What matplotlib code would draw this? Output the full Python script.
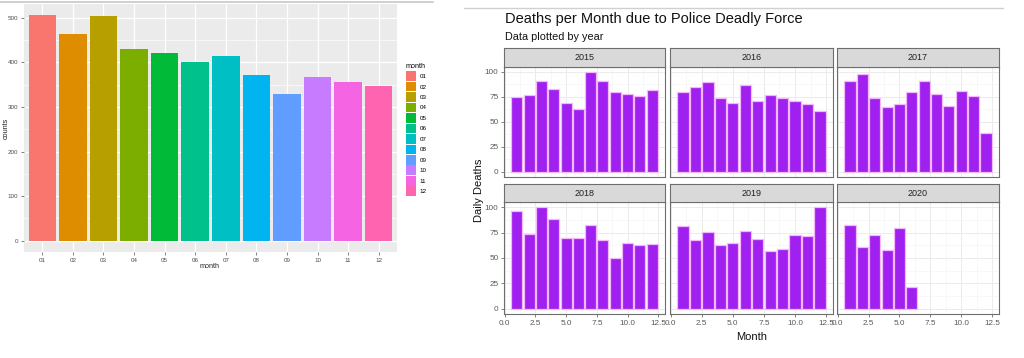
import matplotlib
matplotlib.use("Agg")
import matplotlib.pyplot as plt
from matplotlib.patches import Patch
from matplotlib.ticker import MultipleLocator
from matplotlib.lines import Line2D

plt.rcParams['font.family'] = ['Liberation Sans', 'DejaVu Sans']

# ---------------- data ----------------
month_labels = ['01', '02', '03', '04', '05', '06', '07', '08', '09', '10', '11', '12']
month_counts = [506, 463, 504, 431, 420, 400, 414, 371, 329, 368, 355, 346]
month_colors = ['#F8766D', '#DE8C00', '#B79F00', '#7CAE00', '#00BA38', '#00C08B',
                '#00BFC4', '#00B4F0', '#619CFF', '#C77CFF', '#F564E3', '#FF64B0']

years = ['2015', '2016', '2017', '2018', '2019', '2020']
deaths_2015 = [75, 77, 91, 83, 69, 63, 100, 91, 80, 78, 76, 82]
deaths_2016 = [80, 85, 90, 74, 69, 87, 71, 77, 74, 71, 68, 61]
deaths_2017 = [91, 98, 74, 65, 68, 80, 91, 78, 66, 81, 76, 39]
deaths_2018 = [96, 74, 100, 88, 70, 70, 82, 68, 50, 65, 63, 64]
deaths_2019 = [81, 68, 76, 63, 65, 77, 69, 57, 59, 73, 72, 100]
deaths_2020 = [82, 61, 73, 58, 79, 22]
deaths_by_year = [deaths_2015, deaths_2016, deaths_2017, deaths_2018, deaths_2019, deaths_2020]

W, H = 1024, 358
fig = plt.figure(figsize=(W / 100, H / 100), dpi=100)
fig.patch.set_facecolor('white')


def px(x0, y0, x1, y1):
    return [x0 / W, 1 - y1 / H, (x1 - x0) / W, (y1 - y0) / H]


# separator lines at the top
fig.add_artist(Line2D([0 / W, 433 / W], [1 - 1.5 / H, 1 - 1.5 / H], color='#C8C8C8', lw=1.2))
fig.add_artist(Line2D([464 / W, 1003 / W], [1 - 7.5 / H, 1 - 7.5 / H], color='#D0D0D0', lw=1.0))

# ---------------- left chart ----------------
axL = fig.add_axes(px(24, 4, 397, 252))
axL.set_facecolor('#EBEBEB')
xs = list(range(1, len(month_labels) + 1))
bars = axL.bar(xs, month_counts, width=0.9, color=month_colors, zorder=3)
axL.set_xlim(0.4, 12.6)
axL.set_ylim(-25.3, 531)
axL.set_xticks(xs)
axL.set_xticklabels(month_labels)
axL.yaxis.set_major_locator(MultipleLocator(100))
axL.yaxis.set_minor_locator(MultipleLocator(50))
axL.grid(which='major', color='white', lw=0.9, zorder=0)
axL.grid(which='minor', axis='y', color='white', lw=0.45, zorder=0)
for s in axL.spines.values():
    s.set_visible(False)
axL.tick_params(axis='both', which='major', labelsize=4.5, colors='#4D4D4D',
                length=2, width=0.5, pad=2)
axL.tick_params(which='minor', length=0)
fig.text(210 / W, 1 - 266 / H, 'month', fontsize=5.2, color='#222222', ha='center', va='center')
fig.text(6 / W, 1 - 128 / H, 'counts', fontsize=5.2, color='#222222', ha='center', va='center',
         rotation=90)

handles = [Patch(facecolor=c, edgecolor='none') for c in month_colors]
fig.legend(handles, month_labels, title='month', loc='upper left',
           bbox_to_anchor=(403 / W, 1 - 61 / H), frameon=False, fontsize=4.5,
           title_fontsize=5.2, handlelength=1.6, handleheight=2.05, labelspacing=0.1,
           handletextpad=0.6, borderaxespad=0, alignment='left')

# ---------------- right chart (facets) ----------------
col_x = [(504, 665), (670, 833), (837, 999)]
row_y = [(48, 67, 177), (184, 202, 314)]
purple = '#A020F0'
edge = '#F2B8F8'

for i, (yr, vals) in enumerate(zip(years, deaths_by_year)):
    r, c = divmod(i, 3)
    x0, x1 = col_x[c]
    sy0, py0, py1 = row_y[r]
    ax = fig.add_axes(px(x0, py0, x1, py1))
    ax.set_facecolor('white')
    mx = list(range(1, len(vals) + 1))
    ax.bar(mx, vals, width=0.9, color=purple, edgecolor=edge, lw=0.9, zorder=3)
    ax.set_xlim(-0.05, 13.05)
    ax.set_ylim(-5, 105)
    ax.xaxis.set_major_locator(MultipleLocator(2.5))
    ax.xaxis.set_minor_locator(MultipleLocator(1.25))
    ax.yaxis.set_major_locator(MultipleLocator(25))
    ax.yaxis.set_minor_locator(MultipleLocator(12.5))
    ax.grid(which='major', color='#EBEBEB', lw=0.7, zorder=0)
    ax.grid(which='minor', color='#F3F3F3', lw=0.4, zorder=0)
    for s in ax.spines.values():
        s.set_color('#6E6E6E')
        s.set_linewidth(0.8)
    ax.tick_params(which='minor', length=0)
    ax.tick_params(which='major', length=2.5, width=0.6, colors='#6E6E6E',
                   labelcolor='#5A5A5A', labelsize=5.9, pad=1.5)
    if r == 1:
        ax.set_xticks([0, 2.5, 5, 7.5, 10, 12.5])
        ax.set_xticklabels(['0.0', '2.5', '5.0', '7.5', '10.0', '12.5'])
    else:
        ax.tick_params(axis='x', length=0, labelbottom=False)
    if c == 0:
        ax.set_yticks([0, 25, 50, 75, 100])
        ax.set_yticklabels(['0', '25', '50', '75', '100'])
    else:
        ax.tick_params(axis='y', length=0, labelleft=False)

    sax = fig.add_axes(px(x0, sy0, x1, py0))
    sax.set_facecolor('#D9D9D9')
    sax.set_xticks([])
    sax.set_yticks([])
    for s in sax.spines.values():
        s.set_color('#6E6E6E')
        s.set_linewidth(0.8)
    sax.text(0.5, 0.5, yr, transform=sax.transAxes, ha='center', va='center',
             fontsize=6.5, color='#222222')

fig.text(505 / W, 1 - 19 / H, 'Deaths per Month due to Police Deadly Force', fontsize=10.5,
         color='#111111', ha='left', va='center')
fig.text(505 / W, 1 - 37 / H, 'Data plotted by year', fontsize=7.8, color='#111111',
         ha='left', va='center')
fig.text(752 / W, 1 - 337 / H, 'Month', fontsize=8, color='#111111', ha='center', va='center')
fig.text(479 / W, 1 - 190 / H, 'Daily Deaths', fontsize=8, color='#111111', ha='center',
         va='center', rotation=90)

fig.savefig('out.png', dpi=100, facecolor='white')
